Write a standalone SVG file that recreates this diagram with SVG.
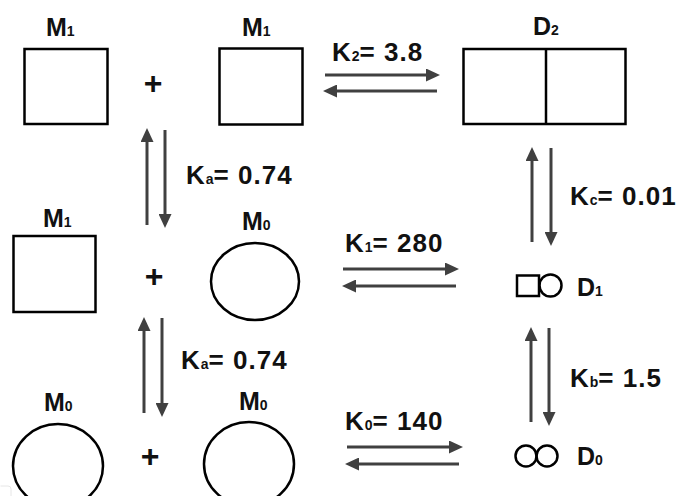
<svg xmlns="http://www.w3.org/2000/svg" width="681" height="496" viewBox="0 0 681 496">
<style>
  .shape { fill: none; stroke: #000; stroke-width: 2.5; }
  .lbl { font-family: "Liberation Sans", Arial, sans-serif; font-weight: bold; fill: #111; }
  .m { font-size: 25px; }
  .k { font-size: 26px; letter-spacing: 1px; }
  .p { font-size: 32px; }
  .sub { font-size: 14px; }
  .ksub { font-size: 14px; letter-spacing: 0; }
  .arr { stroke: #404040; stroke-width: 3; fill: none; marker-end: url(#ah); }
</style>
<defs>
  <marker id="ah" markerWidth="14" markerHeight="13" refX="0" refY="6.5" orient="auto" markerUnits="userSpaceOnUse">
    <path d="M0,0 L14,6.5 L0,13 z" fill="#404040"/>
  </marker>
</defs>
<rect width="681" height="496" fill="#fff"/>
<path d="M0.5,486 L8,486 Q11,486 11,489 L11,496" fill="none" stroke="#e6e6e6" stroke-width="1"/>

<g id="M1_top_left">
  <text class="lbl m" x="46" y="36">M<tspan class="sub">1</tspan></text>
  <rect class="shape" x="24.5" y="49" width="83" height="75"/>
</g>
<g id="plus_top"><text class="lbl p" x="153" y="94" text-anchor="middle">+</text></g>
<g id="M1_top_mid">
  <text class="lbl m" x="242" y="36">M<tspan class="sub">1</tspan></text>
  <rect class="shape" x="219.5" y="48.5" width="83" height="76"/>
</g>
<g id="D2">
  <text class="lbl m" x="533" y="35">D<tspan class="sub">2</tspan></text>
  <rect class="shape" x="463.5" y="49" width="162" height="75"/>
  <line class="shape" x1="546" y1="49" x2="546" y2="124"/>
</g>

<g id="M1_mid_left">
  <text class="lbl m" x="43" y="227">M<tspan class="sub">1</tspan></text>
  <rect class="shape" x="13.5" y="236" width="82" height="76"/>
</g>
<g id="plus_mid"><text class="lbl p" x="154" y="287" text-anchor="middle">+</text></g>
<g id="M0_mid">
  <text class="lbl m" x="242" y="230">M<tspan class="sub">0</tspan></text>
  <ellipse class="shape" cx="255" cy="281.5" rx="44" ry="38.5"/>
</g>
<g id="D1">
  <rect class="shape" x="517" y="275.5" width="22" height="20.5"/>
  <circle class="shape" cx="550.5" cy="285.5" r="11"/>
  <text class="lbl m" x="577" y="296">D<tspan class="sub">1</tspan></text>
</g>

<g id="M0_bot_left">
  <text class="lbl m" x="44" y="411">M<tspan class="sub">0</tspan></text>
  <ellipse class="shape" cx="58" cy="466" rx="45" ry="42"/>
</g>
<g id="plus_bot"><text class="lbl p" x="150" y="467" text-anchor="middle">+</text></g>
<g id="M0_bot_right">
  <text class="lbl m" x="239" y="410">M<tspan class="sub">0</tspan></text>
  <ellipse class="shape" cx="249" cy="464" rx="45" ry="42"/>
</g>
<g id="D0">
  <circle class="shape" cx="526" cy="456" r="10.5"/>
  <circle class="shape" cx="547" cy="456" r="10.5"/>
  <text class="lbl m" x="577" y="465">D<tspan class="sub">0</tspan></text>
</g>

<g id="connectors">
  <line class="arr" x1="325" y1="75" x2="426" y2="75"/>
  <line class="arr" x1="437" y1="91" x2="337" y2="91"/>
  <line class="arr" x1="343" y1="269" x2="445" y2="269"/>
  <line class="arr" x1="456" y1="286" x2="356" y2="286"/>
  <line class="arr" x1="347" y1="447" x2="449" y2="447"/>
  <line class="arr" x1="459" y1="464" x2="359" y2="464"/>

  <line class="arr" x1="147" y1="225" x2="147" y2="142"/>
  <line class="arr" x1="165" y1="130" x2="165" y2="214"/>
  <line class="arr" x1="144" y1="413" x2="144" y2="331"/>
  <line class="arr" x1="162" y1="318" x2="162" y2="403"/>
  <line class="arr" x1="532" y1="242" x2="532" y2="161"/>
  <line class="arr" x1="551" y1="148" x2="551" y2="232"/>
  <line class="arr" x1="531" y1="422" x2="531" y2="341"/>
  <line class="arr" x1="549" y1="328" x2="549" y2="412"/>
</g>

<g id="labels">
  <text class="lbl k" x="332" y="61">K<tspan class="ksub">2</tspan>= 3.8</text>
  <text class="lbl k" x="186" y="184">K<tspan class="ksub">a</tspan>= 0.74</text>
  <text class="lbl k" x="570" y="205">K<tspan class="ksub">c</tspan>= 0.01</text>
  <text class="lbl k" x="345" y="252">K<tspan class="ksub">1</tspan>= 280</text>
  <text class="lbl k" x="181" y="369">K<tspan class="ksub">a</tspan>= 0.74</text>
  <text class="lbl k" x="570" y="387">K<tspan class="ksub">b</tspan>= 1.5</text>
  <text class="lbl k" x="345" y="430">K<tspan class="ksub">0</tspan>= 140</text>
</g>
</svg>
